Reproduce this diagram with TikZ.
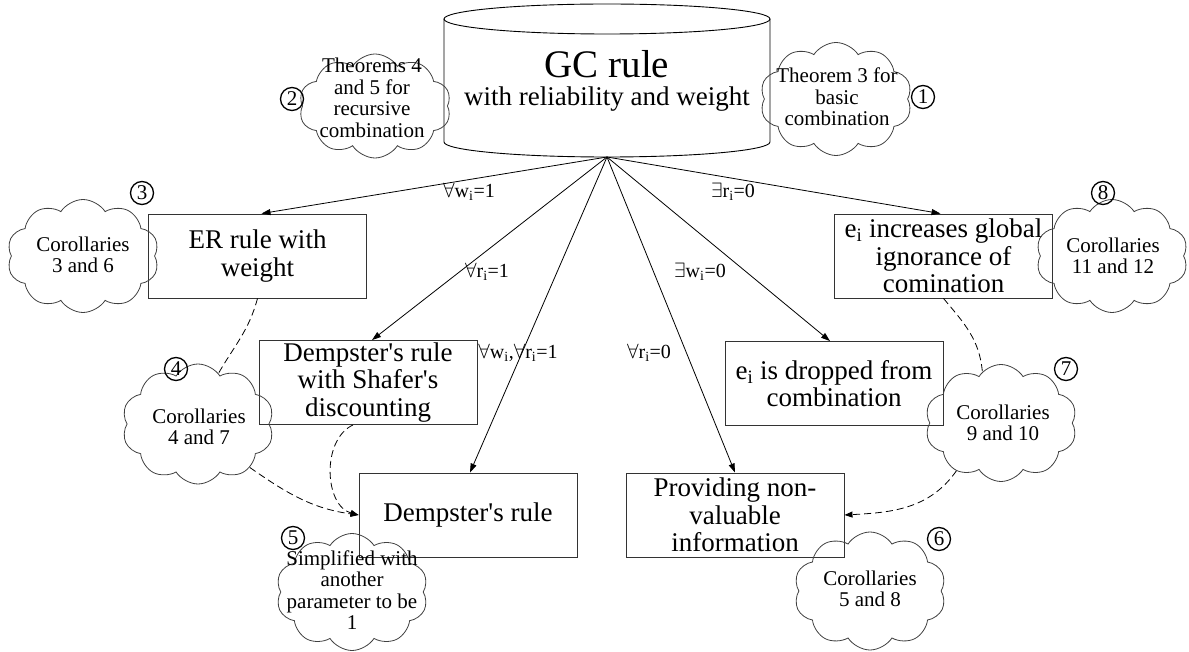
\documentclass[tikz,border=0pt]{standalone}
\usepackage{fontspec}
\setmainfont{Liberation Serif}[Ligatures=TeXOff]
\usetikzlibrary{shapes.symbols,arrows.meta,calc}
\begin{document}
\begin{tikzpicture}[x=1pt,y=-1pt,
  box/.style={draw=black!80, line width=0.9pt, minimum width=218pt, minimum height=84pt, inner sep=0pt, align=center, font=\fontsize{27}{27.5}\selectfont},
  cloudshape/.style={draw=black!75, line width=0.8pt, cloud, cloud puffs=10, cloud puff arc=115, cloud ignores aspect, minimum width=152pt, inner sep=0pt},
  ctext/.style={align=center, font=\fontsize{21}{21.5}\selectfont, inner sep=0pt},
  num/.style={draw, circle, line width=1.3pt, minimum size=23pt, inner sep=0pt, font=\fontsize{21}{21}\selectfont},
  lbl/.style={font=\fontsize{20}{20}\selectfont, inner sep=0pt},
  arr/.style={-{Triangle[length=9pt,width=6pt]}, line width=0.8pt},
  dsh/.style={dash pattern=on 7pt off 4pt, line width=0.8pt}
]
\useasboundingbox (0,0) rectangle (1189,652);

% cylinder
\draw[line width=0.9pt] (607,19) ellipse [x radius=163, y radius=15];
\draw[line width=0.9pt] (444,19) -- (444,142) arc[start angle=180, end angle=0, x radius=163, y radius=15] -- (770,19);
\coordinate (gcb) at (607,157);
\node[font=\fontsize{39}{39}\selectfont, inner sep=0pt] (gct) at (607,64) {GC rule};
\node[font=\fontsize{27}{27}\selectfont, inner sep=0pt] (gcs) at (607,99) {with reliability and weight};

% boxes
\node[box] (er) at (257.5,256) {ER rule with\\weight};
\node[box] (ds) at (368,382.5) {Dempster's rule\\with Shafer's\\discounting};
\node[box] (dr) at (468,515) {Dempster's rule};
\node[box] (pv) at (735,515) {Providing non-\\valuable\\information};
\node[box] (dp) at (834,383.5) {e\textsubscript{i} is dropped from\\combination};
\node[box] (eg) at (943.5,256) {e\textsubscript{i} increases global\\ignorance of\\comination};

% clouds
\node[cloudshape, minimum height=113pt] (c1) at (836,99) {};
\node[ctext] at (837,97) {Theorem 3 for\\basic\\combination};
\node[cloudshape, minimum height=104pt] (c2) at (375,106) {};
\node[ctext] at (372,98) {Theorems 4\\and 5 for\\recursive\\combination};
\node[cloudshape, minimum height=113pt] (c3) at (83,256) {};
\node[ctext] at (83,255) {Corollaries\\3 and 6};
\node[cloudshape, minimum height=120pt] (c4) at (198,424) {};
\node[ctext] at (199,427) {Corollaries\\4 and 7};
\node[cloudshape, minimum height=117pt] (c5) at (352,592) {};
\node[ctext] at (352,590) {Simplified with\\another\\parameter to be\\1};
\node[cloudshape, minimum height=118pt] (c6) at (870,591) {};
\node[ctext] at (870,589) {Corollaries\\5 and 8};
\node[cloudshape, minimum height=117pt] (c7) at (1001,423) {};
\node[ctext] at (1003,423) {Corollaries\\9 and 10};
\node[cloudshape, minimum height=113pt] (c8) at (1112,256) {};
\node[ctext] at (1113,256) {Corollaries\\11 and 12};

% circled numbers
\node[num] (n1) at (923,97) {1};
\node[num] (n2) at (292,99) {2};
\node[num] (n3) at (142,193) {3};
\node[num] (n4) at (176,369) {4};
\node[num] (n5) at (293,538) {5};
\node[num] (n6) at (939,539) {6};
\node[num] (n7) at (1066,369) {7};
\node[num] (n8) at (1103,193) {8};

% arrows
\draw[arr] (gcb) -- ([xshift=4pt]er.north);
\draw[arr] (gcb) -- ([xshift=4pt]ds.north);
\draw[arr] (gcb) -- ([xshift=2pt]dr.north);
\draw[arr] (gcb) -- (pv.north);
\draw[arr] (gcb) -- ([xshift=-4pt]dp.north);
\draw[arr] (gcb) -- ([xshift=-3pt]eg.north);

% labels
\node[lbl] at (469,192) {$\forall$w\textsubscript{i}=1};
\node[lbl] at (487,272) {$\forall$r\textsubscript{i}=1};
\node[lbl] at (518,353) {$\forall$w\textsubscript{i},$\forall$r\textsubscript{i}=1};
\node[lbl] at (649,353) {$\forall$r\textsubscript{i}=0};
\node[lbl] at (700,272) {$\exists$w\textsubscript{i}=0};
\node[lbl] at (733,192) {$\exists$r\textsubscript{i}=0};

% dashed connectors
\draw[dsh] (er.south) to[out=-105, in=60] (c4.68);
\draw[dsh, -{Triangle[length=8pt,width=6pt]}] ([xshift=-15pt]ds.south) to[out=205, in=165] (dr.west);
\draw[dsh, -{Triangle[length=8pt,width=6pt]}] (c4.-40) to[out=-35, in=172] (dr.west);
\draw[dsh] (eg.south) to[out=-50, in=95] (c7.110);
\draw[dsh, -{Triangle[length=8pt,width=6pt]}] (c7.-133) to[out=-125, in=3] (pv.east);
\end{tikzpicture}
\end{document}
